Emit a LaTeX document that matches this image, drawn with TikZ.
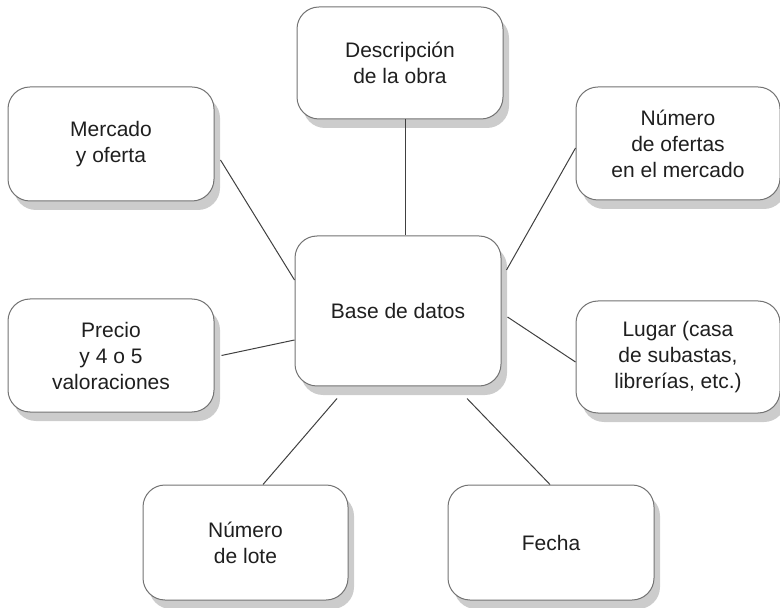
\documentclass[tikz,border=0pt]{standalone}
\usepackage{fontspec}
\setmainfont{Liberation Sans}
\usetikzlibrary{shadows}
\begin{document}
\begin{tikzpicture}[x=0.5pt,y=-0.5pt,
  box/.style={draw=black!55, line width=0.5pt, fill=white, rounded corners=11pt,
    inner sep=0pt, align=center, text=black!88,
    font=\fontsize{10.5}{13}\selectfont,
    drop shadow={shadow xshift=3pt, shadow yshift=-4.5pt, fill=black!20, opacity=1}},
  conn/.style={draw=black!75, line width=0.5pt}]
\useasboundingbox (0,0) rectangle (780,608);
\node[box, minimum width=103pt, minimum height=56pt] (desc) at (400,63) {Descripción\\de la obra};
\node[box, minimum width=103pt, minimum height=57pt] (mer) at (111,144) {Mercado\\y oferta};
\node[box, minimum width=102pt, minimum height=56.5pt] (nof) at (678,143.5) {Número\\de ofertas\\en el mercado};
\node[box, minimum width=103pt, minimum height=75pt] (base) at (398,311) {Base de datos};
\node[box, minimum width=103pt, minimum height=56.5pt] (pre) at (111,355.5) {Precio\\y 4 o 5\\valoraciones};
\node[box, minimum width=102pt, minimum height=56pt] (lug) at (678,357) {Lugar (casa\\de subastas,\\librerías, etc.)};
\node[box, minimum width=102.5pt, minimum height=57.5pt] (lote) at (245.5,542.5) {Número\\de lote};
\node[box, minimum width=103pt, minimum height=57.5pt] (fecha) at (551,542.5) {Fecha};
\draw[conn] ([shift={(5,0)}]desc.south) -- ([shift={(7,0)}]base.north);
\draw[conn] ([shift={(6,16)}]mer.east) -- ([shift={(0,-31)}]base.west);
\draw[conn] ([shift={(7,0)}]pre.east) -- ([shift={(0,29)}]base.west);
\draw[conn] ([shift={(5,-41)}]base.east) -- ([shift={(0,4.5)}]nof.west);
\draw[conn] ([shift={(6,6)}]base.east) -- ([shift={(0,5)}]lug.west);
\draw[conn] ([shift={(-61,12)}]base.south) -- ([shift={(17.5,0)}]lote.north);
\draw[conn] ([shift={(69,12)}]base.south) -- ([shift={(-1,0)}]fecha.north);
\end{tikzpicture}
\end{document}
